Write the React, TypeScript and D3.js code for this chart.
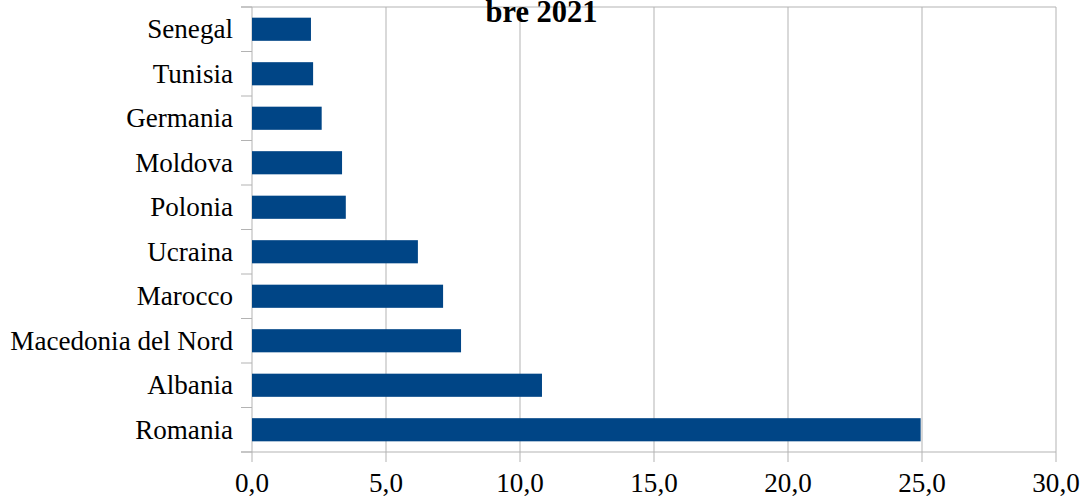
import React from "react";
import * as d3 from "d3";

const categories = ["Senegal", "Tunisia", "Germania", "Moldova", "Polonia", "Ucraina", "Marocco", "Macedonia del Nord", "Albania", "Romania"];
const values = [2.2, 2.28, 2.6, 3.36, 3.5, 6.19, 7.13, 7.8, 10.82, 24.95];
const xTicks = [0, 5, 10, 15, 20, 25, 30];
const titleText = "bre 2021";

const W = 1086;
const H = 501;
const left = 252;
const right = 1056;
const top = 7;
const bottom = 452;
const grid = "#b3b3b3";
const barColor = "#004586";
const font = "'Liberation Serif', 'Times New Roman', serif";

export default function App() {
  const x = d3.scaleLinear().domain([0, 30]).range([left, right]);
  const y = d3.scaleBand<string>().domain(categories).range([top, bottom]).paddingInner(0.48).paddingOuter(0.24);
  const step = (bottom - top) / categories.length;
  const bounds = d3.range(categories.length + 1).map((i) => top + i * step);
  const fmt = (v: number) => d3.format(".1f")(v).replace(".", ",");
  return (
    <svg width={W} height={H} style={{ position: "absolute", left: 0, top: 0, background: "#fff" }}>
      {xTicks.map((t) => (
        <line key={"g" + t} x1={x(t)} x2={x(t)} y1={top} y2={bottom + 10} stroke={grid} strokeWidth={1} />
      ))}
      <line x1={left - 11} x2={right} y1={top} y2={top} stroke={grid} strokeWidth={1} />
      <line x1={left - 11} x2={right} y1={bottom} y2={bottom} stroke={grid} strokeWidth={1} />
      {bounds.map((b, i) => (
        <line key={"t" + i} x1={left - 11} x2={left} y1={b} y2={b} stroke={grid} strokeWidth={1} />
      ))}
      {categories.map((c, i) => (
        <rect key={c} x={x(0)} y={y(c)} width={x(values[i]) - x(0)} height={y.bandwidth()} fill={barColor} />
      ))}
      {categories.map((c) => (
        <text key={"l" + c} x={233} y={(y(c) as number) + y.bandwidth() / 2 + 9} textAnchor="end" fontFamily={font} fontSize={27.1} fill="#000">
          {c}
        </text>
      ))}
      {xTicks.map((t) => (
        <text key={"x" + t} x={x(t)} y={492} textAnchor="middle" fontFamily={font} fontSize={27.1} fill="#000">
          {fmt(t)}
        </text>
      ))}
      <text x={541.5} y={22} textAnchor="middle" fontFamily={font} fontSize={30.5} fontWeight="bold" fill="#000">
        {titleText}
      </text>
    </svg>
  );
}
